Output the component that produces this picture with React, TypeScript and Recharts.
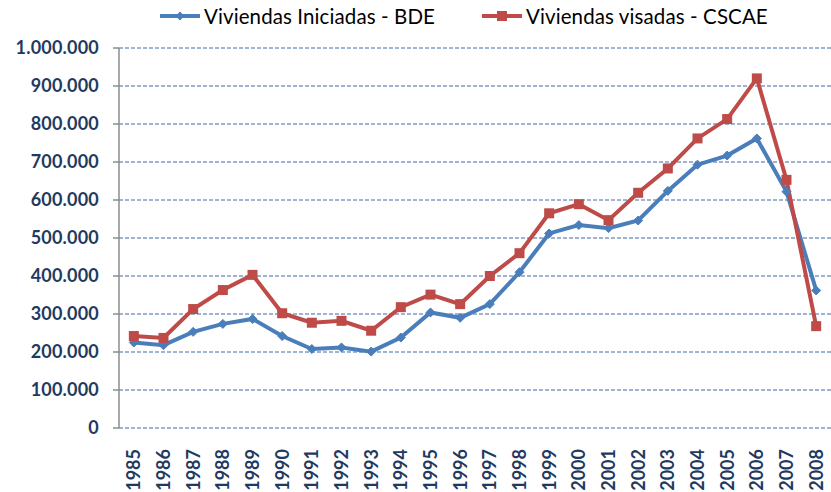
import React from 'react';
import { LineChart, Line, XAxis, YAxis, CartesianGrid } from 'recharts';

const years = [1985, 1986, 1987, 1988, 1989, 1990, 1991, 1992, 1993, 1994, 1995, 1996, 1997, 1998, 1999, 2000, 2001, 2002, 2003, 2004, 2005, 2006, 2007, 2008];
const iniciadas = [225000, 218000, 253000, 274000, 287000, 242000, 208000, 212000, 201000, 238000, 304000, 290000, 326000, 410000, 512000, 534000, 526000, 546000, 624000, 693000, 717000, 762000, 622000, 362000];
const visadas = [242000, 237000, 313000, 363000, 403000, 302000, 277000, 282000, 256000, 318000, 351000, 326000, 400000, 460000, 565000, 589000, 547000, 619000, 683000, 762000, 813000, 920000, 653000, 268000];
const yTicks = [0, 100000, 200000, 300000, 400000, 500000, 600000, 700000, 800000, 900000, 1000000];
const boundaryTicks = [1984.5, 1985.5, 1986.5, 1987.5, 1988.5, 1989.5, 1990.5, 1991.5, 1992.5, 1993.5, 1994.5, 1995.5, 1996.5, 1997.5, 1998.5, 1999.5, 2000.5, 2001.5, 2002.5, 2003.5, 2004.5, 2005.5, 2006.5, 2007.5, 2008.5];
const seriesNames = ['Viviendas Iniciadas - BDE', 'Viviendas visadas - CSCAE'];

const data = years.map((y, i) => ({ year: y, iniciadas: iniciadas[i], visadas: visadas[i] }));

const BLUE = '#4A7EBB';
const RED = '#BE4B48';
const NAVY = '#1F3A60';
const AXIS = '#8C8C8C';
const FONT = 'Lato, "Open Sans", sans-serif';

const fmt = (v: number) => String(v).replace(/\B(?=(\d{3})+(?!\d))/g, '.');

const Diamond = (props: any) => {
  const { cx, cy, index } = props;
  if (cx == null || cy == null) return <g key={index} />;
  const r = 4.5;
  return <polygon key={index} points={`${cx},${cy - r} ${cx + r},${cy} ${cx},${cy + r} ${cx - r},${cy}`} fill={BLUE} stroke={BLUE} />;
};

const Square = (props: any) => {
  const { cx, cy, index } = props;
  if (cx == null || cy == null) return <g key={index} />;
  const s = 5;
  return <rect key={index} x={cx - s} y={cy - s} width={2 * s} height={2 * s} fill={RED} />;
};

const YearTick = (props: any) => {
  const { x, y, payload } = props;
  return (
    <g transform={`translate(${x},${y})`}>
      <text transform="rotate(-90)" textAnchor="end" dy="0.36em" fill={NAVY} fontWeight={700} fontSize={18} fontFamily={FONT}>
        {payload.value}
      </text>
    </g>
  );
};

const LegendItem = ({ color, label, square }: { color: string; label: string; square: boolean }) => (
  <div style={{ display: 'flex', alignItems: 'center' }}>
    <svg width={40} height={12} style={{ marginRight: 4 }}>
      <line x1={0} y1={6} x2={40} y2={6} stroke={color} strokeWidth={4} />
      {square ? (
        <rect x={15} y={1} width={10} height={10} fill={color} />
      ) : (
        <polygon points="20,1.5 24.5,6 20,10.5 15.5,6" fill={color} />
      )}
    </svg>
    <span style={{ fontFamily: FONT, fontSize: 20.5, letterSpacing: 0.1, color: '#000', whiteSpace: 'nowrap' }}>{label}</span>
  </div>
);

export default function App() {
  return (
    <div style={{ position: 'absolute', left: 0, top: 0, width: 831, height: 492, background: '#fff', overflow: 'hidden' }}>
      <div style={{ position: 'absolute', left: 160, top: 4 }}>
        <div style={{ position: 'absolute', left: 0, top: 0 }}>
          <LegendItem color={BLUE} label={seriesNames[0]} square={false} />
        </div>
        <div style={{ position: 'absolute', left: 322, top: 0 }}>
          <LegendItem color={RED} label={seriesNames[1]} square={true} />
        </div>
      </div>
      <LineChart width={831} height={492} data={data} margin={{ top: 48, right: 0, left: 0, bottom: 0 }}>
        <CartesianGrid horizontal={true} vertical={false} stroke="#3F68A8" strokeDasharray="4 2" />
        <XAxis
          xAxisId="ticks"
          dataKey="year"
          type="number"
          domain={[1984.5, 2008.5]}
          ticks={boundaryTicks}
          height={0}
          tick={false}
          tickSize={6}
          axisLine={{ stroke: AXIS, strokeWidth: 1.5 }}
          tickLine={{ stroke: AXIS, strokeWidth: 1.5 }}
          allowDataOverflow
        />
        <XAxis
          xAxisId="labels"
          dataKey="year"
          type="number"
          domain={[1984.5, 2008.5]}
          ticks={years}
          height={64}
          interval={0}
          axisLine={false}
          tickLine={false}
          tickSize={0}
          tickMargin={21}
          tick={<YearTick />}
          allowDataOverflow
        />
        <YAxis
          domain={[0, 1000000]}
          ticks={yTicks}
          width={119}
          tickFormatter={fmt}
          tickSize={6}
          tickMargin={14}
          axisLine={{ stroke: AXIS, strokeWidth: 1.5 }}
          tickLine={{ stroke: AXIS, strokeWidth: 1.5 }}
          tick={{ fill: NAVY, fontWeight: 700, fontSize: 18, fontFamily: FONT, letterSpacing: 0.2 }}
          interval={0}
        />
        <Line xAxisId="labels" type="linear" dataKey="iniciadas" name={seriesNames[0]} stroke={BLUE} strokeWidth={4} dot={<Diamond />} isAnimationActive={false} />
        <Line xAxisId="labels" type="linear" dataKey="visadas" name={seriesNames[1]} stroke={RED} strokeWidth={4} dot={<Square />} isAnimationActive={false} />
      </LineChart>
    </div>
  );
}
